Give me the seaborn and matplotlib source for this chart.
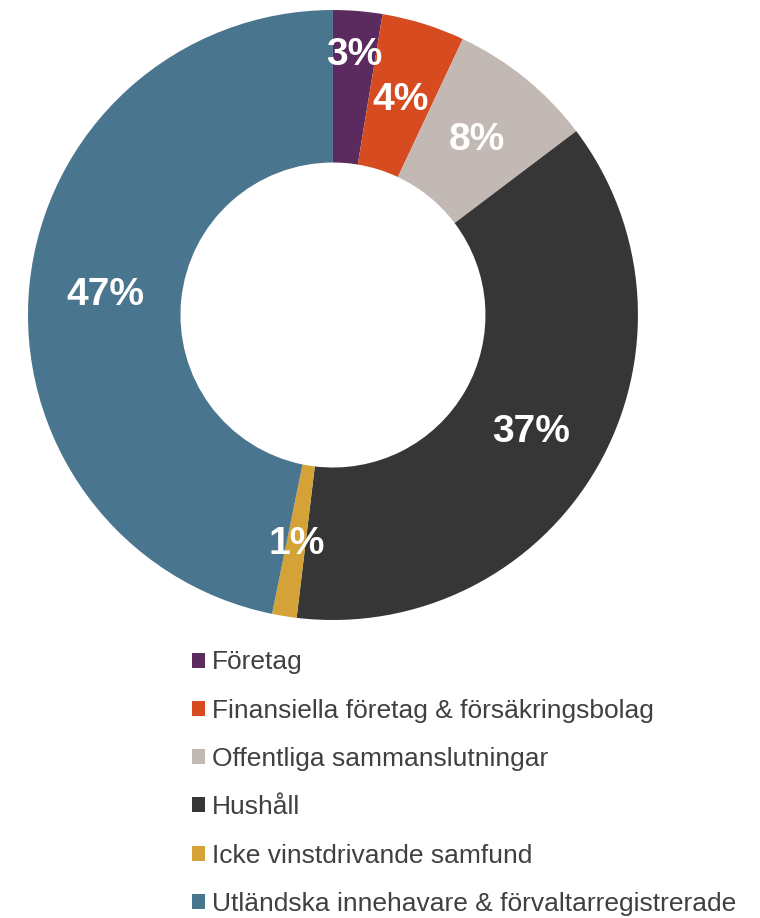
import matplotlib
matplotlib.use("Agg")
import matplotlib.pyplot as plt
import seaborn as sns
import numpy as np

# Data (shares in %)
categories = [
    "Företag",
    "Finansiella företag & försäkringsbolag",
    "Offentliga sammanslutningar",
    "Hushåll",
    "Icke vinstdrivande samfund",
    "Utländska innehavare & förvaltarregistrerade",
]
shares = [2.6, 4.4, 7.7, 37.2, 1.3, 46.8]
colors = ["#5B2A5F", "#D64B1F", "#C3B9B4", "#363636", "#D4A237", "#4A758F"]

sns.set_theme(style="white")
plt.rcParams["font.family"] = ["Liberation Sans", "DejaVu Sans"]
palette = sns.color_palette(colors)

fig = plt.figure(figsize=(7.6, 9.18), dpi=100)
ax = fig.add_axes([0.0368, 0.3246, 0.8026, 0.6645])

wedges, _ = ax.pie(
    shares,
    colors=palette,
    startangle=90,
    counterclock=False,
    radius=1.0,
    wedgeprops=dict(width=0.5, edgecolor="none"),
)

# percentage labels at the ring centre (first one nudged outward like Excel)
label_r = [0.865, 0.75, 0.75, 0.75, 0.75, 0.75]
for w, v, r in zip(wedges, shares, label_r):
    ang = np.deg2rad((w.theta1 + w.theta2) / 2)
    ax.text(r * np.cos(ang), r * np.sin(ang) - 0.01, f"{v:.0f}%",
            ha="center", va="center", color="white",
            fontsize=28, fontweight="bold")

ax.set_xlim(-1, 1)
ax.set_ylim(-1, 1)
ax.set_aspect("equal")
ax.axis("off")

leg = fig.legend(
    wedges, categories,
    loc="upper left", bbox_to_anchor=(0.239, 0.303),
    frameon=False, fontsize=19,
    handlelength=0.5, handleheight=0.5, handletextpad=0.25,
    labelspacing=0.92, borderaxespad=0,
)
for t in leg.get_texts():
    t.set_color("#404040")

fig.savefig("out.png", dpi=100, facecolor="white")
